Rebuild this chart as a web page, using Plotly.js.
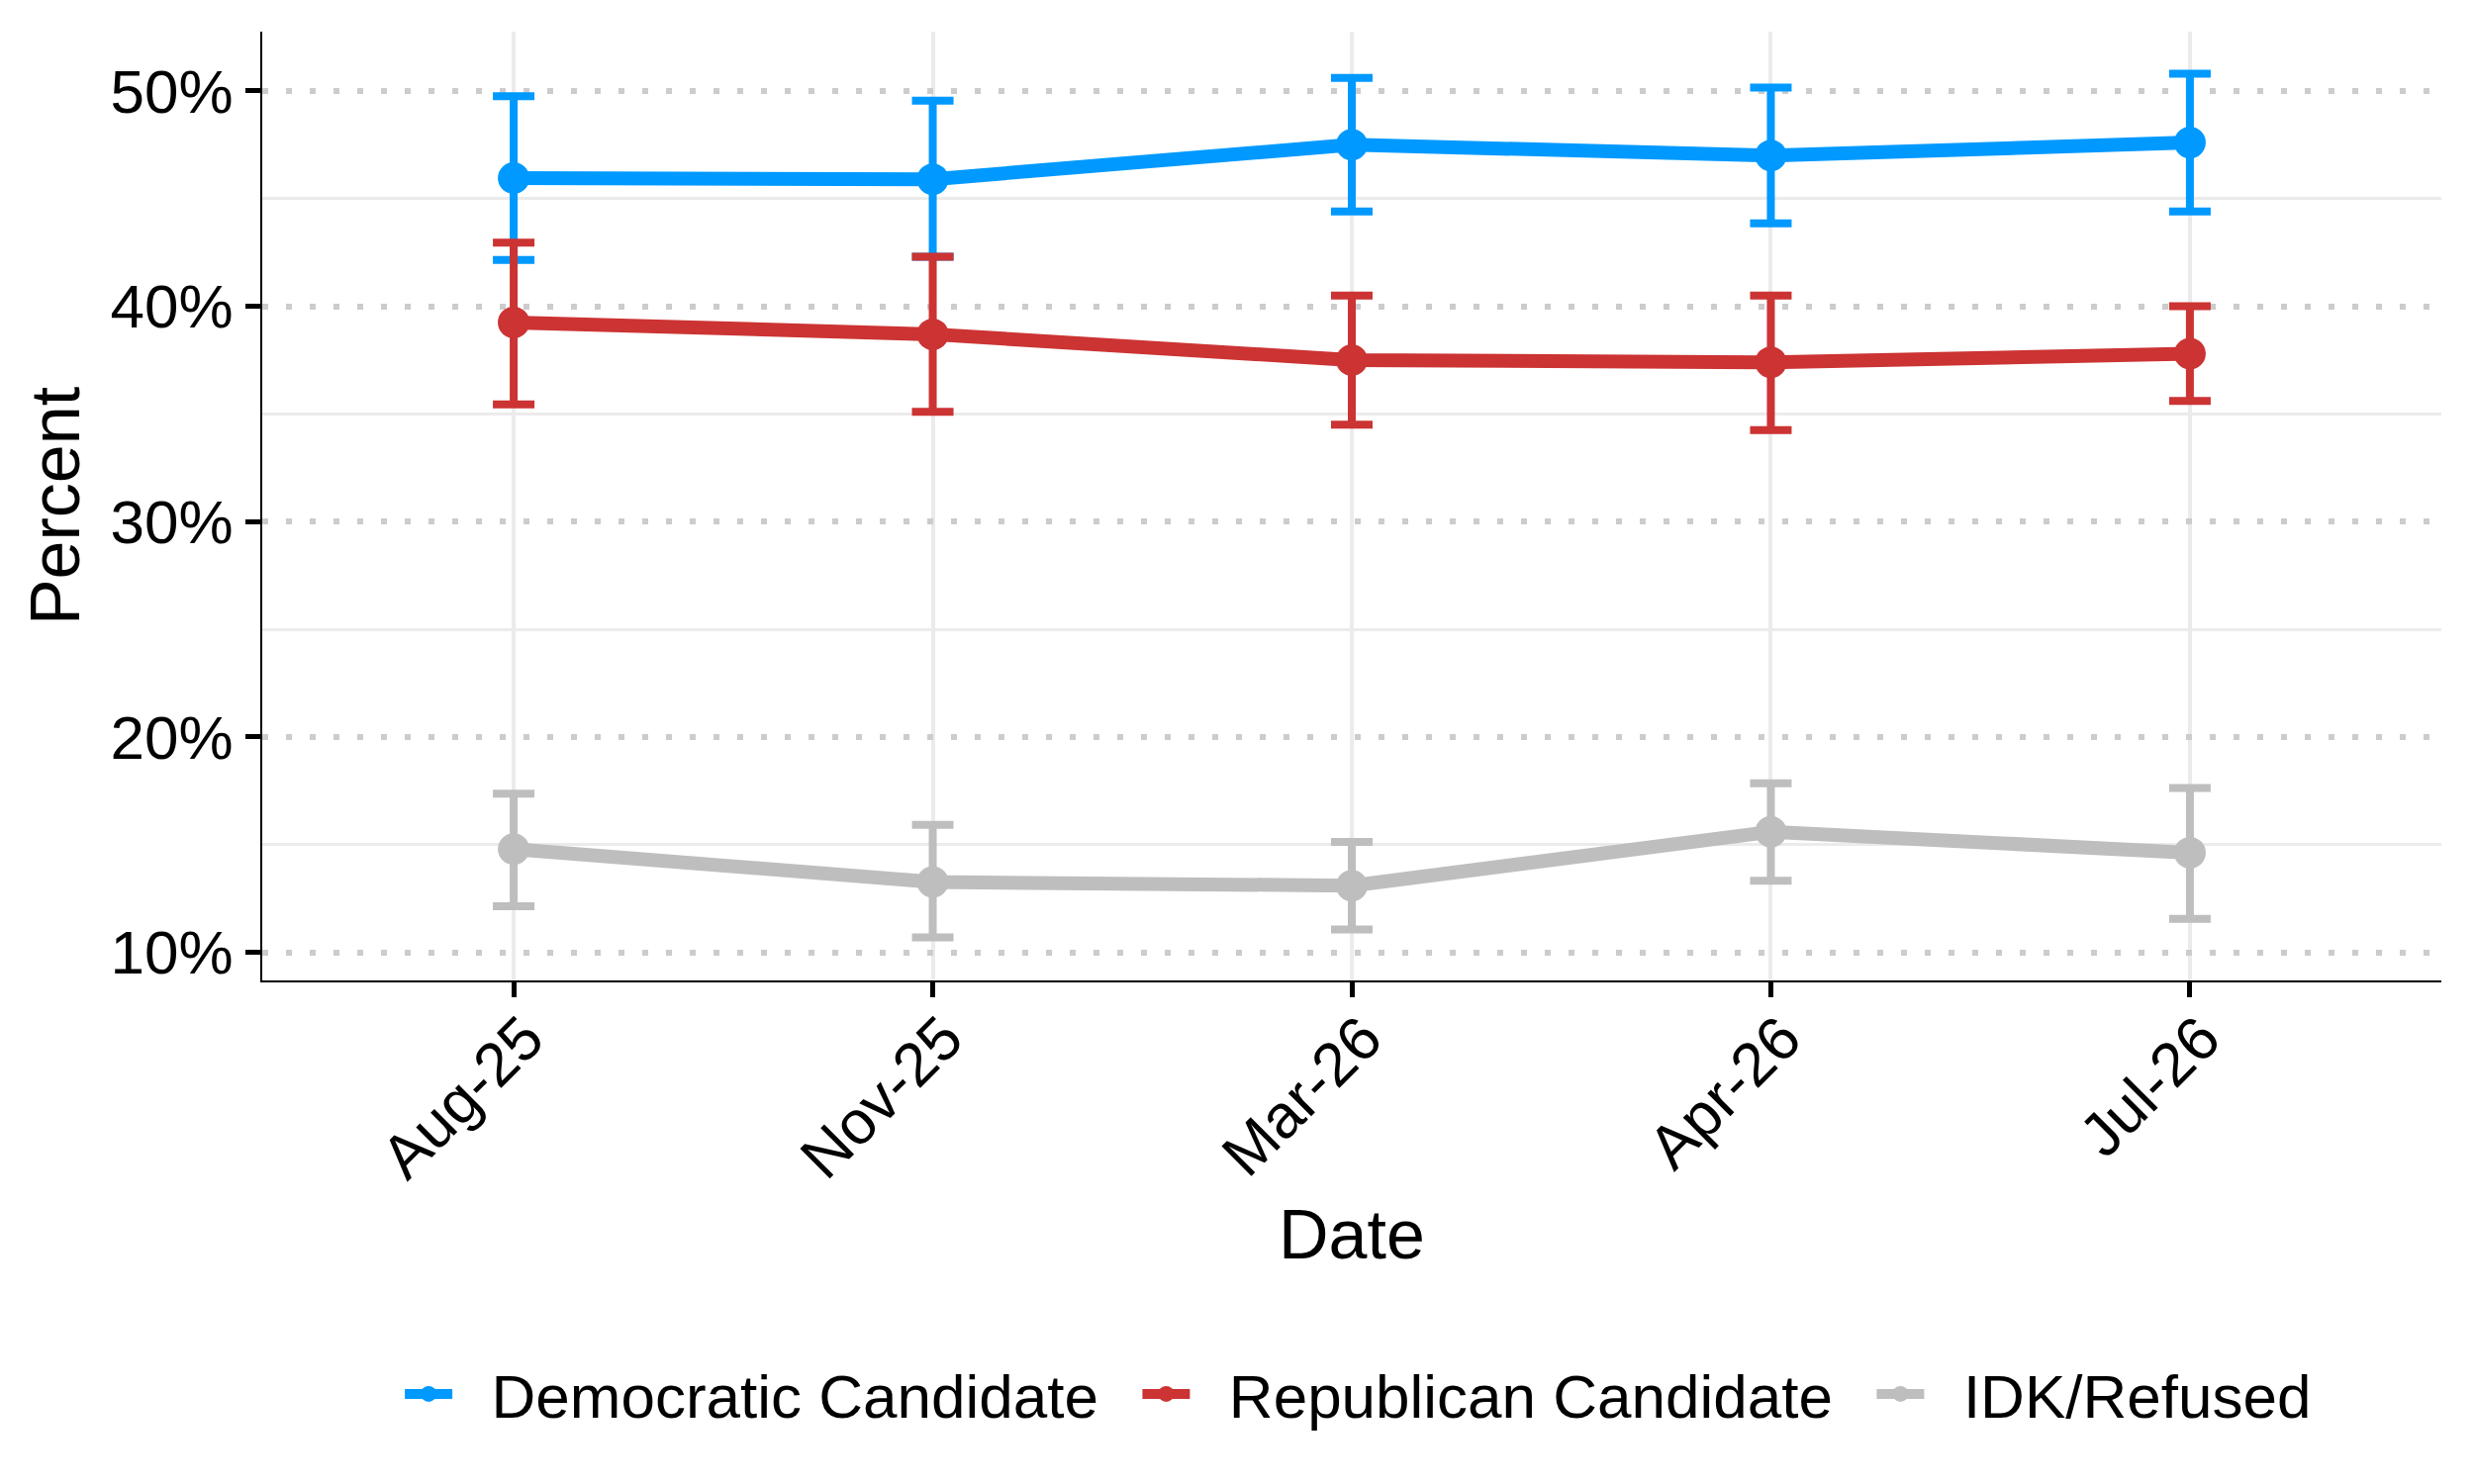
<!DOCTYPE html>
<html>
<head>
<meta charset="utf-8">
<script src="https://cdn.plot.ly/plotly-3.0.1.min.js"></script>
<style>
  html, body { margin:0; padding:0; background:#fff; }
  #chart { width:2500px; height:1500px; }
</style>
</head>
<body>
<div id="chart"></div>
<script>
// poll dates
const dates = ['Aug-25', 'Nov-25', 'Mar-26', 'Apr-26', 'Jul-26'];

// estimates and interval bounds, in percent
const dem     = [45.95, 45.90, 47.50, 47.00, 47.60];
const demLow  = [42.15, 42.30, 44.40, 43.85, 44.40];
const demHigh = [49.75, 49.55, 50.60, 50.15, 50.80];

const rep     = [39.25, 38.70, 37.50, 37.40, 37.80];
const repLow  = [35.45, 35.10, 34.50, 34.25, 35.60];
const repHigh = [42.95, 42.30, 40.50, 40.50, 40.00];

const idk     = [14.80, 13.27, 13.10, 15.60, 14.63];
const idkLow  = [12.15, 10.70, 11.07, 13.33, 11.56];
const idkHigh = [17.37, 15.92, 15.13, 17.85, 17.63];

const yTicks = [10, 20, 30, 40, 50];
const yLabels = ['10%', '20%', '30%', '40%', '50%'];
const yMinor = [15, 25, 35, 45];

const FONT = '"Liberation Sans", Arial, sans-serif';
const PAD = '\u00a0\u00a0';   // room between legend key, text and next entry

function series(name, y, lo, hi, color, last){
  return {
    x: dates, y: y, name: PAD + name + (last ? '' : PAD),
    type: 'scatter', mode: 'lines+markers',
    line: {color: color, width: 14},
    marker: {color: color, size: 32},
    error_y: {
      type: 'data', symmetric: false,
      array: hi.map((v, i) => v - y[i]),
      arrayminus: lo.map((v, i) => y[i] - v),
      color: color, thickness: 8, width: 21
    },
    hoverinfo: 'x+y'
  };
}

const traces = [
  series('Democratic Candidate', dem, demLow, demHigh, '#0099FF'),
  series('Republican Candidate', rep, repLow, repHigh, '#CC3333'),
  series('IDK/Refused', idk, idkLow, idkHigh, '#BEBEBE', true)
];

const layout = {
  width: 2500, height: 1500,
  margin: {l:265, r:33, t:32, b:509},
  paper_bgcolor: '#fff', plot_bgcolor: '#fff',
  font: {family: FONT, size: 62, color: '#000'},
  showlegend: true,
  legend: {
    orientation: 'h', x: 0.503, xanchor: 'center', y: -0.436, yanchor: 'middle',
    font: {family: FONT, size: 62, color: '#000'},
    itemwidth: 48
  },
  xaxis: {
    type: 'category',
    range: [-0.6, 4.6],
    showgrid: true, gridcolor: '#EBEBEB', gridwidth: 4,
    showline: true, linecolor: '#000', linewidth: 2,
    ticks: 'outside', ticklen: 15, tickwidth: 5, tickcolor: '#000',
    tickangle: -45,
    ticklabelstandoff: -20, ticklabelshift: 12,
    tickfont: {family: FONT, size: 62, color: '#000'},
    zeroline: false,
    title: {text: 'Date', font: {family: FONT, size: 70, color: '#000'}, standoff: 20}
  },
  yaxis: {
    range: [8.7, 52.75],
    tickmode: 'array', tickvals: yTicks, ticktext: yLabels,
    showgrid: true, gridcolor: '#CCCCCC', gridwidth: 6, griddash: '6px,18px',
    minor: {tickmode: 'array', tickvals: yMinor, showgrid: true, gridcolor: '#EBEBEB', gridwidth: 3, griddash: 'solid', ticks: ''},
    showline: true, linecolor: '#000', linewidth: 2,
    ticks: 'outside', ticklen: 15, tickwidth: 5, tickcolor: '#000',
    ticklabelstandoff: 0,
    tickfont: {family: FONT, size: 62, color: '#000'},
    zeroline: false,
    title: {text: 'Percent', font: {family: FONT, size: 70, color: '#000'}, standoff: 8}
  }
};

Plotly.newPlot('chart', traces, layout, {displayModeBar: false, staticPlot: true});
</script>
</body>
</html>
